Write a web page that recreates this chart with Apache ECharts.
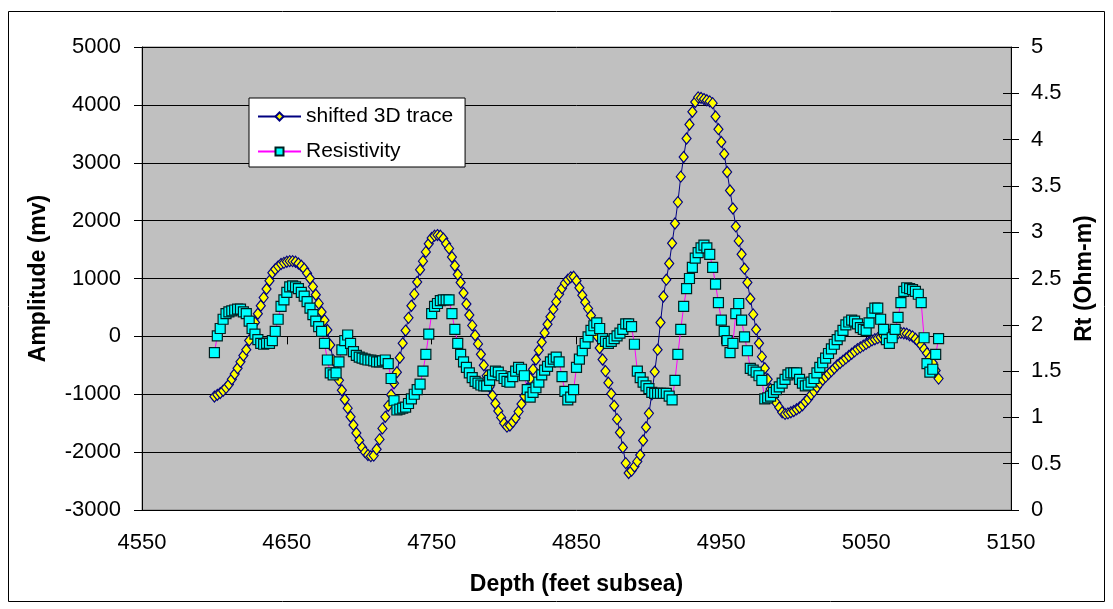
<!DOCTYPE html>
<html>
<head>
<meta charset="utf-8">
<script src="https://cdn.jsdelivr.net/npm/echarts@6/dist/echarts.min.js"></script>
<style>
  html, body { margin: 0; padding: 0; background: #fff; }
  #chart { width: 1113px; height: 609px; }
</style>
</head>
<body>
<div id="chart"></div>
<script>
// depth samples every 2 ft from 4600 to 5100
const depthStart = 4600;
const depthStep = 2;

// shifted 3D trace, amplitude (mv)
const trace = [
  -1040, -1010, -980, -940, -890, -830, -740, -650, -550, -440,   // 4600
  -330, -230, -70, 80, 240, 390, 530, 670, 820, 960,              // 4620
  1100, 1160, 1210, 1250, 1270, 1290, 1300, 1300, 1290, 1260,     // 4640
  1220, 1170, 1090, 1000, 860, 720, 570, 420, 280, 110,           // 4660
  -150, -410, -590, -760, -930, -1090, -1240, -1390, -1530, -1670, // 4680
  -1800, -1920, -2000, -2050, -2070, -2060, -1950, -1780, -1590, -1390, // 4700
  -1200, -1010, -810, -620, -370, -120, 100, 320, 530, 730,       // 4720
  940, 1150, 1300, 1460, 1600, 1700, 1740, 1750, 1740, 1690,      // 4740
  1600, 1520, 1370, 1220, 1070, 930, 750, 560, 370, 190,          // 4760
  20, -130, -310, -500, -680, -870, -1020, -1160, -1290, -1400,   // 4780
  -1500, -1560, -1540, -1480, -1410, -1300, -1170, -1030, -900, -730, // 4800
  -570, -400, -240, -100, 60, 210, 340, 470, 600, 730,            // 4820
  830, 920, 980, 1020, 1030, 960, 840, 710, 590, 480,             // 4840
  360, 220, 10, -200, -400, -600, -800, -990, -1200, -1430,       // 4860
  -1660, -1920, -2190, -2360, -2320, -2250, -2160, -2050, -1800, -1570, // 4880
  -1330, -1000, -610, -230, 240, 690, 980, 1260, 1610, 1950,      // 4900
  2320, 2760, 3100, 3420, 3660, 3880, 4050, 4130, 4120, 4100,     // 4920
  4080, 4060, 4030, 3800, 3580, 3360, 3150, 2840, 2520, 2210,     // 4940
  1900, 1650, 1420, 1170, 930, 650, 380, 120, -120, -350,         // 4960
  -550, -740, -910, -1040, -1150, -1230, -1310, -1340, -1330, -1310, // 4980
  -1290, -1260, -1230, -1190, -1130, -1080, -1010, -950, -880, -810, // 5000
  -750, -700, -650, -600, -550, -500, -460, -420, -380, -340,     // 5020
  -300, -260, -220, -190, -160, -130, -100, -70, -50, -30,        // 5040
  -10, 10, 20, 30, 40, 50, 55, 60, 55, 45,                        // 5060
  20, 0, -40, -90, -150, -220, -290, -370, -460, -590,            // 5080
  -730                                                            // 5100
];

// resistivity Rt (Ohm-m)
const resistivity = [
  1.70, 1.88, 1.96, 2.06, 2.12, 2.14, 2.15, 2.16, 2.17, 2.17,  // 4600
  2.14, 2.12, 2.04, 1.96, 1.90, 1.84, 1.80, 1.79, 1.80, 1.80,  // 4620
  1.83, 1.93, 2.06, 2.20, 2.27, 2.35, 2.41, 2.42, 2.41, 2.39,  // 4640
  2.35, 2.31, 2.25, 2.18, 2.11, 2.04, 1.98, 1.93, 1.80, 1.62,  // 4660
  1.48, 1.46, 1.48, 1.60, 1.73, 1.83, 1.89, 1.80, 1.71, 1.67,  // 4680
  1.65, 1.64, 1.63, 1.62, 1.62, 1.61, 1.60, 1.60, 1.61, 1.62,  // 4700
  1.58, 1.42, 1.18, 1.08, 1.09, 1.10, 1.11, 1.15, 1.20, 1.25,  // 4720
  1.30, 1.36, 1.50, 1.68, 1.90, 2.12, 2.20, 2.23, 2.26, 2.27,  // 4740
  2.27, 2.27, 2.12, 1.95, 1.80, 1.68, 1.60, 1.54, 1.48, 1.43,  // 4760
  1.39, 1.37, 1.35, 1.34, 1.34, 1.40, 1.46, 1.50, 1.49, 1.45,  // 4780
  1.42, 1.39, 1.38, 1.44, 1.50, 1.54, 1.52, 1.45, 1.30, 1.22,  // 4800
  1.27, 1.32, 1.38, 1.46, 1.51, 1.55, 1.60, 1.63, 1.65, 1.60,  // 4820
  1.44, 1.28, 1.19, 1.22, 1.30, 1.54, 1.63, 1.72, 1.80, 1.87,  // 4840
  1.94, 1.99, 2.02, 1.96, 1.85, 1.82, 1.80, 1.82, 1.85, 1.88,  // 4860
  1.91, 1.95, 2.01, 2.01, 1.98, 1.79, 1.50, 1.43, 1.38, 1.34,  // 4880
  1.31, 1.27, 1.26, 1.26, 1.26, 1.26, 1.26, 1.23, 1.19, 1.40,  // 4900
  1.68, 1.95, 2.20, 2.39, 2.50, 2.62, 2.72, 2.78, 2.83, 2.86,  // 4920
  2.83, 2.76, 2.62, 2.44, 2.24, 2.05, 1.93, 1.83, 1.70, 1.80,  // 4940
  2.12, 2.23, 2.05, 1.87, 1.72, 1.53, 1.51, 1.49, 1.45, 1.40,  // 4960
  1.20, 1.21, 1.23, 1.27, 1.30, 1.33, 1.37, 1.41, 1.46, 1.48,  // 4980
  1.48, 1.48, 1.41, 1.37, 1.34, 1.35, 1.38, 1.42, 1.48, 1.54,  // 5000
  1.59, 1.64, 1.69, 1.74, 1.79, 1.84, 1.88, 1.94, 2.00, 2.03,  // 5020
  2.05, 2.04, 2.01, 1.97, 1.95, 1.94, 2.02, 2.13, 2.18, 2.18,  // 5040
  2.06, 1.95, 1.84, 1.80, 1.86, 1.95, 2.08, 2.24, 2.36, 2.40,  // 5060
  2.39, 2.38, 2.36, 2.33, 2.24, 1.86, 1.58, 1.49, 1.52, 1.68,  // 5080
  1.85                                                         // 5100
];

const depths = trace.map((_, i) => depthStart + i * depthStep);
const traceData = depths.map((d, i) => [d, trace[i]]);
const resData = depths.map((d, i) => [d, resistivity[i]]);

const font = "'Liberation Sans', Arial, sans-serif";
const plain = v => String(v);

var chartDom = document.getElementById('chart');
var myChart = echarts.init(chartDom);
var option;

option = {
  animation: false,
  textStyle: { fontFamily: font },
  graphic: [
    {
      type: 'rect',
      z: -10,
      shape: { x: 8.5, y: 11.5, width: 1096, height: 590 },
      style: { fill: null, stroke: '#000', lineWidth: 1 }
    }
  ],
  grid: {
    left: 142,
    right: 102,
    top: 47,
    bottom: 99,
    show: true,
    backgroundColor: '#c0c0c0',
    borderColor: '#808080',
    borderWidth: 1
  },
  legend: {
    orient: 'vertical',
    left: 249,
    top: 98,
    padding: [8, 12, 5, 8],
    itemGap: 14,
    itemWidth: 43,
    itemHeight: 10,
    backgroundColor: '#fff',
    borderColor: '#000',
    borderWidth: 1,
    textStyle: { fontFamily: font, fontSize: 21, color: '#000' },
    data: ['shifted 3D trace', 'Resistivity']
  },
  xAxis: {
    type: 'value',
    min: 4550,
    max: 5150,
    interval: 100,
    name: 'Depth (feet subsea)',
    nameLocation: 'middle',
    nameGap: 63,
    nameTextStyle: { fontFamily: font, fontSize: 23, fontWeight: 'bold', color: '#000' },
    axisLine: { lineStyle: { color: '#000', width: 1 } },
    axisTick: { length: 8, lineStyle: { color: '#000' } },
    axisLabel: { fontFamily: font, fontSize: 22, color: '#000', margin: 22, formatter: plain },
    splitLine: { show: false }
  },
  yAxis: [
    {
      type: 'value',
      min: -3000,
      max: 5000,
      interval: 1000,
      name: 'Amplitude (mv)',
      nameLocation: 'middle',
      nameRotate: 90,
      nameGap: 92,
      nameTextStyle: { fontFamily: font, fontSize: 23, fontWeight: 'bold', color: '#000' },
      axisLine: { show: true, lineStyle: { color: '#000', width: 1 } },
      axisTick: { show: true, length: 8, lineStyle: { color: '#000' } },
      axisLabel: { fontFamily: font, fontSize: 22, color: '#000', margin: 21, formatter: plain },
      splitLine: { show: true, lineStyle: { color: '#000', width: 1 } }
    },
    {
      type: 'value',
      position: 'right',
      min: 0,
      max: 5,
      interval: 0.5,
      name: 'Rt (Ohm-m)',
      nameLocation: 'middle',
      nameRotate: 90,
      nameGap: 62,
      nameTextStyle: { fontFamily: font, fontSize: 23, fontWeight: 'bold', color: '#000' },
      axisLine: { show: true, lineStyle: { color: '#000', width: 1 } },
      axisTick: { show: true, length: 8, lineStyle: { color: '#000' } },
      axisLabel: { fontFamily: font, fontSize: 22, color: '#000', margin: 20, formatter: plain },
      splitLine: { show: false }
    },
    {
      // inner half of the crossing ticks on the right axis
      type: 'value',
      position: 'right',
      min: 0,
      max: 5,
      interval: 0.5,
      axisLine: { show: false },
      axisTick: { show: true, inside: true, length: 8, lineStyle: { color: '#000' } },
      axisLabel: { show: false },
      splitLine: { show: false }
    }
  ],
  series: [
    {
      name: 'shifted 3D trace',
      type: 'line',
      yAxisIndex: 0,
      data: traceData,
      showSymbol: true,
      showAllSymbol: true,
      symbol: 'diamond',
      symbolSize: [9, 11],
      lineStyle: { color: '#000080', width: 1 },
      itemStyle: { color: '#ffff00', borderColor: '#000080', borderWidth: 1.2 },
      emphasis: { disabled: true }
    },
    {
      name: 'Resistivity',
      type: 'line',
      yAxisIndex: 1,
      data: resData,
      showSymbol: true,
      showAllSymbol: true,
      symbol: 'rect',
      symbolSize: 10,
      lineStyle: { color: '#ff00ff', width: 1 },
      itemStyle: { color: '#00ffff', borderColor: '#002020', borderWidth: 1.2 },
      emphasis: { disabled: true }
    }
  ]
};

option && myChart.setOption(option);
</script>
</body>
</html>
